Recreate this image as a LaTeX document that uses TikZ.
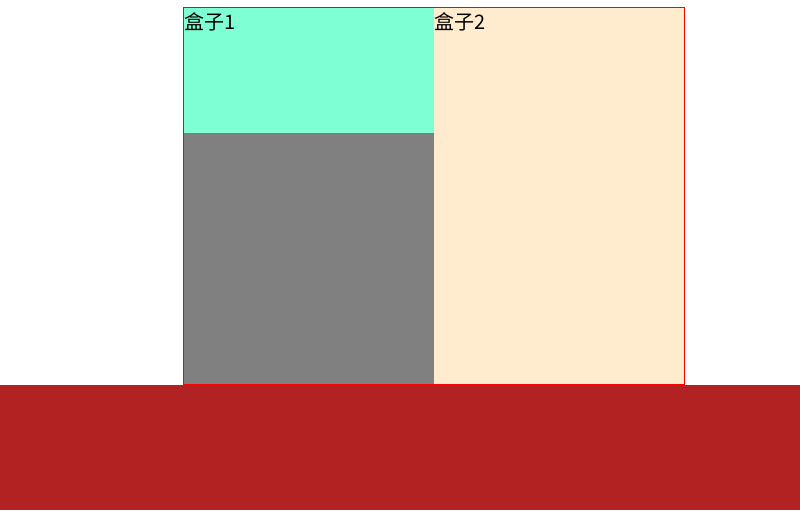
\documentclass[tikz,border=0pt]{standalone}
\usepackage{fontspec}
\newfontfamily\cjk{Noto Sans CJK SC}
\definecolor{aqua}{HTML}{7FFFD4}
\definecolor{bisq}{HTML}{FFEBCD}
\definecolor{fireb}{HTML}{B22222}
\definecolor{grayb}{HTML}{808080}
\definecolor{bord}{HTML}{FF0000}
\begin{document}
\begin{tikzpicture}[x=1pt,y=-1pt,
  lbl/.style={anchor=north west,inner sep=0pt,text=black,font=\cjk\fontsize{20}{20}\selectfont}]
\useasboundingbox (0,0) rectangle (800,525);
\fill[white] (0,0) rectangle (800,525);
\fill[fireb] (0,385) rectangle (800,510);
\fill[aqua] (183.5,7.5) rectangle (434,133);
\fill[grayb] (183.5,133) rectangle (434,384);
\fill[bisq] (434,7.5) rectangle (684,384);
\draw[bord,line width=1pt] (183.5,7.5) rectangle (684.5,384.5);
\node[lbl] (b1) at (184,12.5) {盒子1};
\node[lbl] (b2) at (434.5,12.5) {盒子2};
\end{tikzpicture}
\end{document}
